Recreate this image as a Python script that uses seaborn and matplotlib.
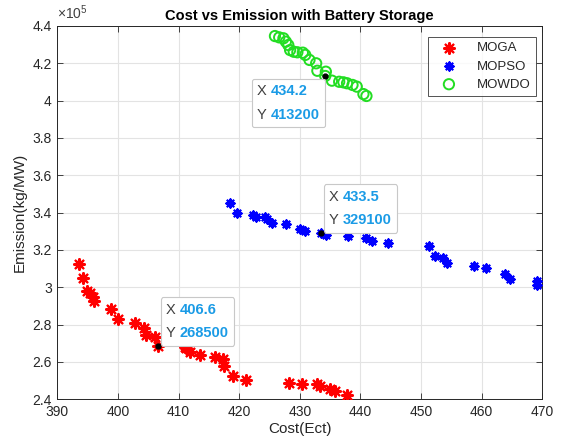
import seaborn as sns
import matplotlib.pyplot as plt
import pandas as pd
from matplotlib.offsetbox import TextArea, HPacker, VPacker, AnnotationBbox

# Pareto fronts (cost, emission)
moga_cost = [393.6, 394.3, 394.9, 395.4, 395.9, 396.1, 398.8, 400.0, 402.8, 404.3,
             404.6, 406.1, 406.6, 411.0, 411.2, 411.9, 413.6, 416.0, 417.4, 417.5,
             418.9, 421.2, 428.3, 430.3, 432.8, 433.3, 435.0, 435.8, 437.8]
moga_emis = [312400, 304700, 298100, 296700, 294500, 292700, 288100, 282700, 280900, 278400,
             274300, 273100, 268500, 268000, 267200, 265400, 263600, 262700, 261300, 257700,
             252300, 250200, 248400, 248000, 247900, 247100, 245400, 244500, 242000]

mopso_cost = [418.5, 419.6, 422.3, 422.8, 424.3, 424.6, 425.4, 427.8, 430.0, 430.8,
              433.5, 434.4, 438.0, 440.9, 441.9, 444.6, 451.4, 452.3, 453.7, 454.3,
              458.7, 460.8, 463.9, 464.7, 469.1, 469.2]
mopso_emis = [345300, 339900, 338700, 337400, 337400, 336400, 334200, 333800, 331000, 330200,
              329100, 327900, 327400, 326200, 324900, 323800, 322000, 316700, 315400, 313100,
              311300, 310100, 307000, 304200, 303400, 301100]

mowdo_cost = [425.9, 426.6, 427.3, 427.7, 428.1, 428.4, 429.0, 429.6, 430.5, 430.9,
              431.6, 432.7, 432.9, 434.3, 434.2, 435.3, 436.5, 437.2, 437.8, 438.7,
              439.4, 440.5, 441.0]
mowdo_emis = [434600, 433900, 433400, 431600, 429800, 427100, 426200, 425900, 425700, 424500,
              421800, 420000, 416000, 415500, 413200, 410700, 410100, 409800, 409300, 408400,
              407500, 403500, 402500]

# data tips shown on the chart
tip_x = [406.6, 433.5, 434.2]
tip_y = [268500, 329100, 413200]
tip_offset = [(6, 4), (6, 4), (-4, -6)]
tip_align = [(0, 0), (0, 0), (1, 1)]

x_ticks = list(range(390, 471, 10))
y_ticks = [240000, 260000, 280000, 300000, 320000, 340000, 360000,
           380000, 400000, 420000, 440000]

sns.set_theme(style="whitegrid")
plt.rcParams['font.family'] = ['Liberation Sans', 'DejaVu Sans']
plt.rcParams['mathtext.fontset'] = 'custom'
plt.rcParams['mathtext.rm'] = 'Liberation Sans'

fig, ax = plt.subplots(figsize=(5.63, 4.48), dpi=100)
fig.subplots_adjust(left=0.102, right=0.963, bottom=0.109, top=0.942)
ax.set_facecolor('white')

sns.scatterplot(x=moga_cost, y=moga_emis, ax=ax, marker=(8, 2, 0), color='red',
                s=60, linewidth=1.6, label='MOGA', zorder=3)
sns.scatterplot(x=mopso_cost, y=mopso_emis, ax=ax, marker=(8, 2, 0), color='blue',
                s=36, linewidth=1.5, label='MOPSO', zorder=3)
sns.scatterplot(x=mowdo_cost, y=mowdo_emis, ax=ax, marker='o', facecolor='none',
                edgecolor='#22dd22', s=55, linewidth=1.4, label='MOWDO', zorder=3)

# datatips
dark = '#404040'
blue_txt = '#1a9be6'
for tx, ty, off, al in zip(tip_x, tip_y, tip_offset, tip_align):
    ax.plot(tx, ty, 'o', color='black', markersize=3.5, zorder=5)
    row1 = HPacker(children=[TextArea('X ', textprops=dict(color=dark, size=10.5)),
                             TextArea(f'{tx:g}', textprops=dict(color=blue_txt, size=10.5,
                                                                weight='bold'))],
                   pad=0, sep=0)
    row2 = HPacker(children=[TextArea('Y ', textprops=dict(color=dark, size=10.5)),
                             TextArea(f'{ty:d}', textprops=dict(color=blue_txt, size=10.5,
                                                                weight='bold'))],
                   pad=0, sep=0)
    box = VPacker(children=[row1, row2], pad=0, sep=7, align='left')
    ab = AnnotationBbox(box, (tx, ty), xybox=off, xycoords='data',
                        boxcoords='offset points', box_alignment=al, pad=0.45,
                        bboxprops=dict(boxstyle='round,pad=0.35,rounding_size=0.15',
                                       facecolor='white', edgecolor='#c8c8c8',
                                       linewidth=0.8),
                        zorder=6)
    ax.add_artist(ab)

ax.set_xlim(390, 470)
ax.set_ylim(240000, 440000)
ax.set_xticks(x_ticks)
ax.set_yticks(y_ticks)
ax.set_yticklabels([f'{v / 1e5:g}' for v in y_ticks])
ax.grid(True, color='#e3e3e3', linewidth=0.8)
for sp in ax.spines.values():
    sp.set_color('#262626')
    sp.set_linewidth(0.7)
ax.tick_params(axis='both', direction='in', length=4, width=0.6, color='#262626',
               labelsize=10, labelcolor='#262626', top=True, right=True,
               bottom=True, left=True, pad=4)
ax.text(0.0, 1.01, r'$\times10^5$', transform=ax.transAxes, fontsize=10,
        color='#404040', ha='left', va='bottom')

ax.set_title('Cost vs Emission with Battery Storage', fontsize=10.5,
             fontweight='bold', color='black', pad=4)
ax.set_xlabel('Cost(Ect)', fontsize=11, color='#262626', labelpad=2)
ax.set_ylabel('Emission(kg/MW)', fontsize=11, color='#262626', labelpad=4)

leg = ax.legend(loc='upper right', bbox_to_anchor=(0.992, 0.978), fontsize=9.5,
                frameon=True, fancybox=False, borderpad=0.4, handletextpad=0.9,
                labelspacing=0.45, handlelength=2.4, borderaxespad=0.2)
leg.get_frame().set_edgecolor('#262626')
leg.get_frame().set_linewidth(0.7)

plt.savefig('out.png', dpi=100)
